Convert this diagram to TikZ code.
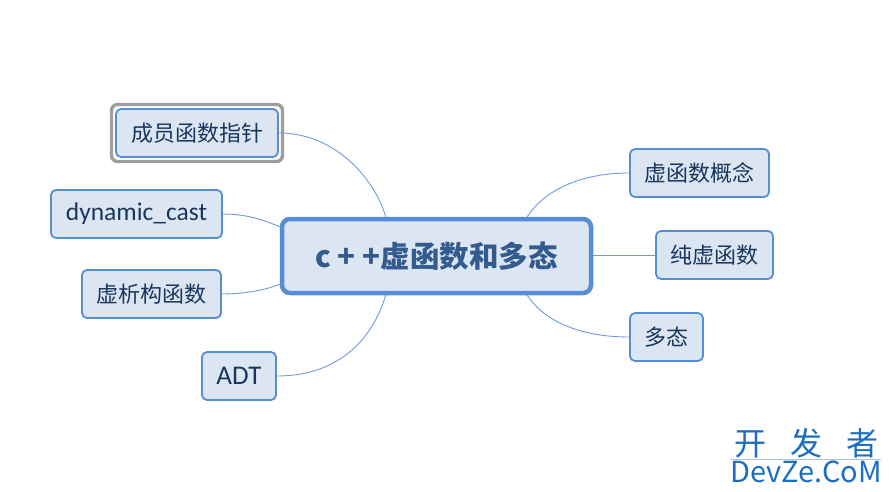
\documentclass[tikz,border=0pt]{standalone}
\usepackage{fontspec}
\setmainfont{Noto Sans CJK SC}
\newfontfamily\latinf{Carlito}
\usetikzlibrary{calc}
\definecolor{nodefill}{HTML}{DCE6F2}
\definecolor{nodeborder}{HTML}{558ED5}
\definecolor{linkc}{HTML}{6E9BD9}
\definecolor{txt}{HTML}{17375E}
\definecolor{ctxt}{HTML}{335B8E}
\definecolor{selc}{HTML}{9E9E9E}
\definecolor{wm}{HTML}{1C6EC2}
\tikzset{
  topic/.style={draw=nodeborder, line width=1.8pt, fill=nodefill, rounded corners=5pt,
    text=txt, font=\fontsize{22}{26}\selectfont, minimum height=48pt, inner sep=0pt},
  central/.style={draw=nodeborder, line width=4.5pt, fill=nodefill, rounded corners=8pt,
    text=ctxt, font=\fontsize{29.5}{34}\selectfont\bfseries, minimum width=309pt, minimum height=74pt, inner sep=0pt},
  link/.style={draw=linkc, line width=0.9pt},
  selbox/.style={draw=selc, line width=3.4pt, rounded corners=6pt}
}
\begin{document}
\begin{tikzpicture}[x=1pt,y=-1pt]
\useasboundingbox (0,0) rectangle (889,492);

% central
\node[central] (c) at (436.5,256) {c\kern7pt+\kern7pt+虚函数和多态};

% left
\node[selbox, minimum width=171pt, minimum height=57pt] (sel) at (197,133) {};
\node[topic, minimum width=162pt] (a1) at (197,133) {成员函数指针};
\node[topic, minimum width=171pt] (a2) at (136.5,214) {\latinf\fontsize{25.5}{28}\selectfont dynamic\_cast};
\node[topic, minimum width=74pt] (a4) at (239,376) {\latinf\fontsize{27}{30}\selectfont ADT};
\node[topic, minimum width=139pt] (a3) at (151.5,294) {虚析构函数};

% right
\node[topic, minimum width=139pt] (b1) at (699.5,173) {虚函数概念};
\node[topic, minimum width=117pt] (b2) at (714.5,255) {纯虚函数};
\node[topic, minimum width=73pt] (b3) at (666.5,337) {多态};

% links
\coordinate (cNW) at ([xshift=106pt]c.north west);
\coordinate (cNE) at ([xshift=-66pt]c.north east);
\coordinate (cSW) at ([xshift=106pt]c.south west);
\coordinate (cSE) at ([xshift=-66pt]c.south east);
\coordinate (cL1) at ([yshift=-10pt]c.north west);
\coordinate (cL2) at ([yshift=11pt]c.south west);

\draw[link] (a1.east) .. controls +(55,0) and +(-12,-40) .. (cNW);
\draw[link] (a2.east) .. controls +(28,0) and +(-10,-4) .. (cL1);
\draw[link] (a3.east) .. controls +(28,0) and +(-10,4) .. (cL2);
\draw[link] (a4.east) .. controls +(65,0) and +(-12,40) .. (cSW);
\draw[link] (b1.west) .. controls +(-55,0) and +(14,-22) .. (cNE);
\draw[link] (b2.west) -- (b2.west -| c.east);
\draw[link] (b3.west) .. controls +(-55,0) and +(14,22) .. (cSE);

% watermark
\node[text=wm, font=\fontsize{32}{34}\selectfont, inner sep=0pt] (w1) at (806,443) {开\hspace{24pt}发\hspace{24pt}者};
\draw[draw=linkc!60, line width=0.8pt] (731,459) -- (881,459);
\node[text=wm, font=\fontsize{29}{32}\selectfont, inner sep=0pt] (w2) at (806,472) {DevZe.CoM};
\end{tikzpicture}
\end{document}
